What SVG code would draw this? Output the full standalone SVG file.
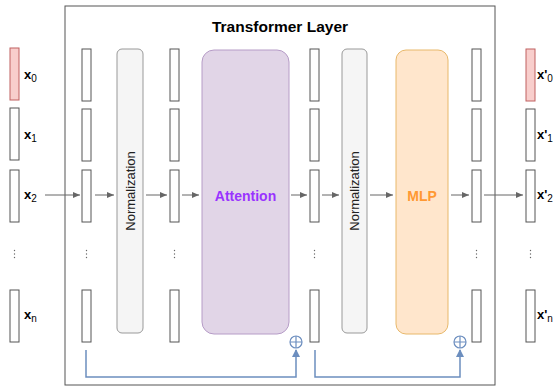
<svg xmlns="http://www.w3.org/2000/svg" width="554" height="391" viewBox="0 0 554 391">
<defs>
<style>
.v{fill:#fff;stroke:#555;stroke-width:1}
.r{fill:#f8cecc;stroke:#c06060;stroke-width:1}
.n{fill:#f5f5f5;stroke:#999;stroke-width:1}
.c{stroke:#666;stroke-width:1;fill:none;marker-end:url(#ag)}
.s{stroke:#6c8ebf;stroke-width:1.5;fill:none}
.lb{font-family:"Liberation Sans",Arial,sans-serif;font-size:13px;font-weight:bold;fill:#000}
.sub{font-weight:normal;font-size:10px}
.nt{font-family:"Liberation Sans",Arial,sans-serif;font-size:13px;fill:#222}
</style>
<g id="dt"><circle cx="0" cy="-3.5" r="0.7" fill="#666"/><circle cx="0" cy="0" r="0.7" fill="#666"/><circle cx="0" cy="3.5" r="0.7" fill="#666"/></g>
<marker id="ag" markerWidth="8" markerHeight="8" refX="7" refY="4" orient="auto" markerUnits="userSpaceOnUse">
<path d="M0,1 L7,4 L0,7 Z" fill="#666"/>
</marker>
</defs>
<rect x="65" y="6" width="430" height="379" fill="#fff" stroke="#555" stroke-width="1"/>
<text x="280" y="32" text-anchor="middle" style="font-family:'Liberation Sans',Arial,sans-serif;font-size:15.5px;font-weight:bold">Transformer Layer</text>

<g id="input">
<rect class="r" x="10" y="48" width="9" height="52"/>
<rect class="v" x="10" y="108" width="9" height="52"/>
<rect class="v" x="10" y="170" width="9" height="52"/>
<use href="#dt" x="14.5" y="254"/>
<rect class="v" x="10" y="290" width="9" height="52"/>
<text class="lb" x="24" y="79">x<tspan class="sub" dy="3">0</tspan></text>
<text class="lb" x="24" y="139">x<tspan class="sub" dy="3">1</tspan></text>
<text class="lb" x="24" y="199">x<tspan class="sub" dy="3">2</tspan></text>
<text class="lb" x="24" y="319">x<tspan class="sub" dy="3">n</tspan></text>
</g>

<g id="col1">
<rect class="v" x="82" y="49" width="9" height="52"/>
<rect class="v" x="82" y="109" width="9" height="52"/>
<rect class="v" x="82" y="170" width="9" height="52"/>
<use href="#dt" x="86.5" y="254"/>
<rect class="v" x="82" y="290" width="9" height="52"/>
</g>
<g id="norm1">
<rect class="n" x="117" y="49" width="26" height="284" rx="5"/>
<text class="nt" transform="translate(134.5,191) rotate(-90)" text-anchor="middle">Normalization</text>
</g>
<g id="col2">
<rect class="v" x="170" y="49" width="9" height="52"/>
<rect class="v" x="170" y="109" width="9" height="52"/>
<rect class="v" x="170" y="170" width="9" height="52"/>
<use href="#dt" x="174.5" y="254"/>
<rect class="v" x="170" y="290" width="9" height="52"/>
</g>
<g id="attention">
<rect x="202" y="50" width="87" height="284" rx="12" fill="#e1d5e7" stroke="#b69cc7" stroke-width="1"/>
<text x="245.5" y="201" text-anchor="middle" style="font-family:'Liberation Sans',Arial,sans-serif;font-size:14px;font-weight:bold;fill:#9933ff">Attention</text>
</g>
<g id="col3">
<rect class="v" x="310" y="49" width="9" height="52"/>
<rect class="v" x="310" y="109" width="9" height="52"/>
<rect class="v" x="310" y="170" width="9" height="52"/>
<use href="#dt" x="314.5" y="254"/>
<rect class="v" x="310" y="290" width="9" height="52"/>
</g>
<g id="norm2">
<rect class="n" x="342" y="49" width="25" height="284" rx="5"/>
<text class="nt" transform="translate(359,191) rotate(-90)" text-anchor="middle">Normalization</text>
</g>
<g id="mlp">
<rect x="396" y="50" width="52" height="284" rx="10" fill="#ffe6cc" stroke="#e8b86a" stroke-width="1"/>
<text x="422" y="201" text-anchor="middle" style="font-family:'Liberation Sans',Arial,sans-serif;font-size:14px;font-weight:bold;fill:#ff9933">MLP</text>
</g>
<g id="col4">
<rect class="v" x="472" y="49" width="9" height="52"/>
<rect class="v" x="472" y="109" width="9" height="52"/>
<rect class="v" x="472" y="170" width="9" height="52"/>
<use href="#dt" x="476.5" y="254"/>
<rect class="v" x="472" y="290" width="9" height="52"/>
</g>
<g id="output">
<rect class="r" x="526" y="49" width="9" height="52"/>
<rect class="v" x="526" y="109" width="9" height="52"/>
<rect class="v" x="526" y="170" width="9" height="52"/>
<use href="#dt" x="530.5" y="254"/>
<rect class="v" x="526" y="290" width="9" height="52"/>
<text class="lb" x="537" y="79">x'<tspan class="sub" dy="3">0</tspan></text>
<text class="lb" x="537" y="139">x'<tspan class="sub" dy="3">1</tspan></text>
<text class="lb" x="537" y="199">x'<tspan class="sub" dy="3">2</tspan></text>
<text class="lb" x="537" y="319">x'<tspan class="sub" dy="3">n</tspan></text>
</g>
<g id="add1">
<circle cx="296" cy="342" r="6" fill="#fff" stroke="#6c8ebf" stroke-width="1.2"/>
<path d="M290,342 H302 M296,336 V348" stroke="#6c8ebf" stroke-width="1.2"/>
</g>
<g id="add2">
<circle cx="460" cy="342" r="6" fill="#fff" stroke="#6c8ebf" stroke-width="1.2"/>
<path d="M454,342 H466 M460,336 V348" stroke="#6c8ebf" stroke-width="1.2"/>
</g>

<g id="connectors">
<line class="c" x1="45" y1="195" x2="80" y2="195"/>
<line class="c" x1="95" y1="195" x2="114" y2="195"/>
<line class="c" x1="146" y1="195" x2="167" y2="195"/>
<line class="c" x1="182" y1="195" x2="199" y2="195"/>
<line class="c" x1="291" y1="195" x2="307" y2="195"/>
<line class="c" x1="322" y1="195" x2="339" y2="195"/>
<line class="c" x1="370" y1="195" x2="393" y2="195"/>
<line class="c" x1="451" y1="195" x2="469" y2="195"/>
<line class="c" x1="484" y1="195" x2="523" y2="195"/>
<path class="s" d="M86,350 V377 H296 V350"/>
<path d="M292,357 L296,349 L300,357 Z" fill="#6c8ebf"/>
<path class="s" d="M315,350 V377 H460 V350"/>
<path d="M456,357 L460,349 L464,357 Z" fill="#6c8ebf"/>
</g>
</svg>
